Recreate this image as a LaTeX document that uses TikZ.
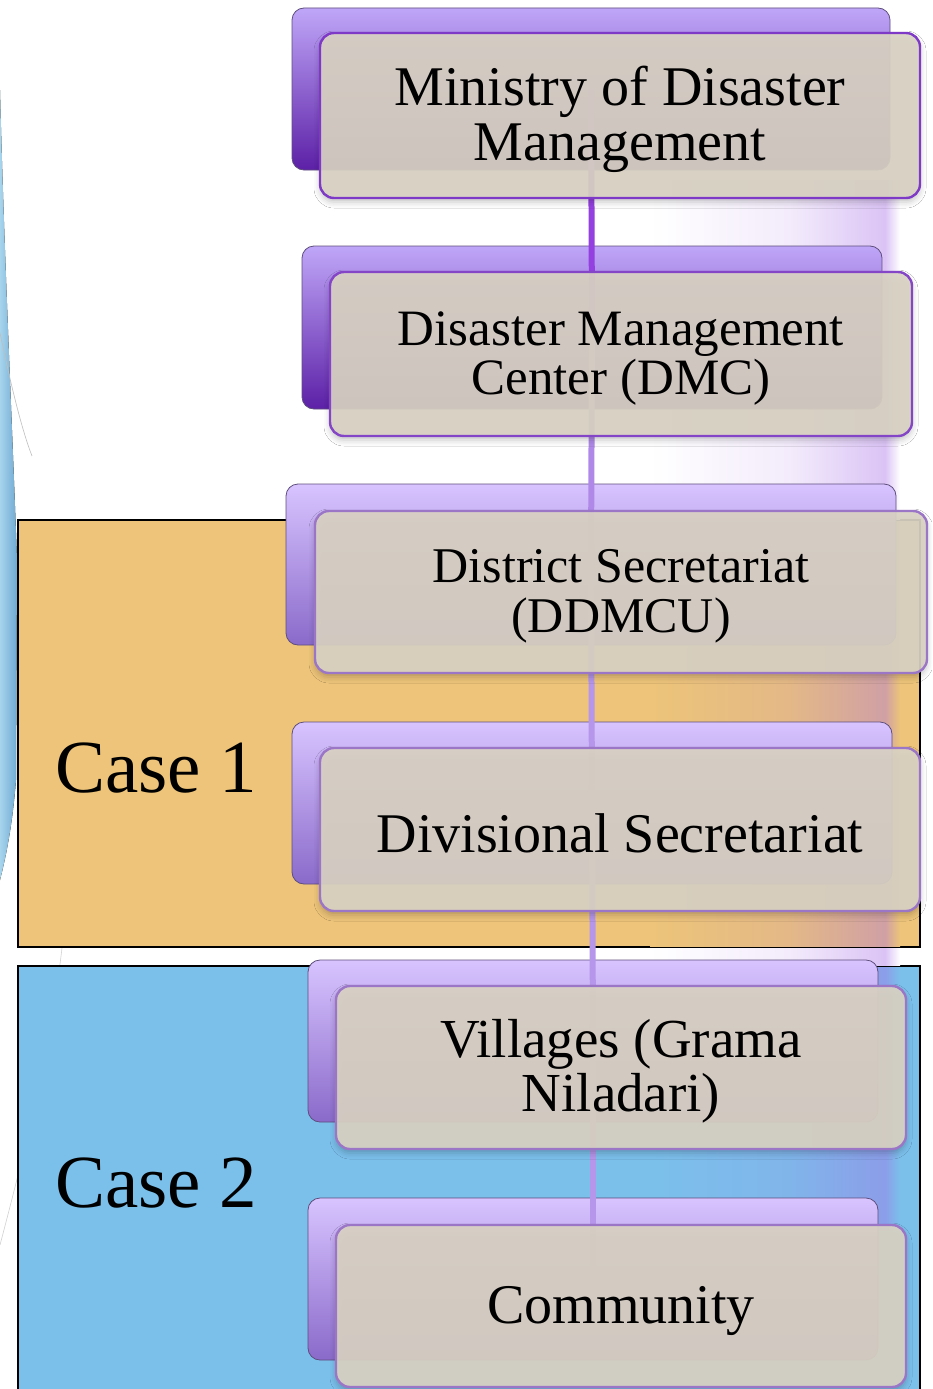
\documentclass[tikz,border=0pt]{standalone}
\usepackage{fontspec}
\setmainfont{Liberation Serif}
\usetikzlibrary{shadows.blur}
\definecolor{orangebg}{HTML}{EDC479}
\definecolor{bluebg}{HTML}{7BC0EB}
\definecolor{frontfill}{HTML}{DAD3C4}
\definecolor{borderA}{HTML}{7E3AC6}
\definecolor{borderB}{HTML}{9C76C6}
\definecolor{backtopA}{HTML}{BFA6F8}
\definecolor{backbotA}{HTML}{5C20A6}
\definecolor{backtopB}{HTML}{D8C4FF}
\definecolor{backbotB}{HTML}{8A6ACA}
\definecolor{backline}{HTML}{5E4E7C}
\definecolor{connA}{HTML}{9440E0}
\definecolor{connB}{HTML}{B596EA}
\definecolor{glowc}{HTML}{A46AE6}
\definecolor{decoA}{HTML}{A6D4EC}
\definecolor{decoB}{HTML}{6FA9D2}
\newcommand\mystrut{\rule{0pt}{\dimexpr0.72em+6pt\relax}}
\tikzset{
  backbox/.style 2 args={rectangle, rounded corners=12pt, top color=#1, bottom color=#2,
    draw=backline, line width=0.8pt, inner sep=0pt},
  frontbox/.style={rectangle, rounded corners=14pt, fill=frontfill, fill opacity=0.92,
    text opacity=1, draw=#1, line width=2.4pt, align=center, inner sep=0pt, text=black,
    blur shadow={shadow xshift=0pt, shadow yshift=-4pt, shadow blur radius=6pt, shadow opacity=25}},
  conn/.style={draw=#1, line width=6pt},
  casebox/.style={draw=black, line width=1.6pt},
  caselabel/.style={anchor=base west, inner sep=0pt, font=\fontsize{75}{80}\selectfont},
  glowa/.style={left color=#1, right color=#1!87!glowc},
  glowb/.style={left color=#1!87!glowc, right color=#1!60!glowc},
  glowc/.style={left color=#1!60!glowc, right color=#1}
}
\begin{document}
\begin{tikzpicture}[x=1pt,y=-1pt]
\useasboundingbox (0,0) rectangle (932,1389);
\clip (0,0) rectangle (932,1389);
\fill[white] (0,0) rectangle (932,1389);
% left decoration
\fill[left color=decoA, right color=decoB] (0,90) .. controls (4,250) and (12,420) .. (17,560) -- (16,780) .. controls (12,830) and (5,860) .. (0,880) -- cycle;
\draw[black!25, line width=0.6pt] (0,333) .. controls (12,390) and (22,430) .. (32,456);
\draw[black!18, line width=0.6pt] (62,948) .. controls (50,1050) and (25,1150) .. (0,1245);
% case backgrounds
\filldraw[casebox, fill=orangebg] (18,520) rectangle (920,947);
\filldraw[casebox, fill=bluebg] (18,966) rectangle (920,1400);
% glow behind the chart
\fill[glowa=white] (650,180) rectangle (790,519);
\fill[glowb=white] (790,180) rectangle (885,519);
\fill[glowc=white] (885,180) rectangle (900,519);
\fill[glowa=orangebg] (650,521) rectangle (790,946);
\fill[glowb=orangebg] (790,521) rectangle (885,946);
\fill[glowc=orangebg] (885,521) rectangle (900,946);
\fill[glowa=white] (650,948) rectangle (790,965);
\fill[glowb=white] (790,948) rectangle (885,965);
\fill[glowc=white] (885,948) rectangle (900,965);
\fill[glowa=bluebg] (650,967) rectangle (790,1230);
\fill[glowb=bluebg] (790,967) rectangle (885,1230);
\fill[glowc=bluebg] (885,967) rectangle (900,1230);
% back boxes
\node[backbox={backtopA}{backbotA}, minimum width=598pt, minimum height=162pt] (b1) at (591,89) {};
\node[backbox={backtopA}{backbotA}, minimum width=580pt, minimum height=163pt] (b2) at (592,327.5) {};
\node[backbox={backtopB}{backbotB}, minimum width=610pt, minimum height=161pt] (b3) at (591,564.5) {};
\node[backbox={backtopB}{backbotB}, minimum width=600pt, minimum height=162pt] (b4) at (592,803) {};
\node[backbox={backtopB}{backbotB}, minimum width=570pt, minimum height=162pt] (b5) at (593,1041) {};
\node[backbox={backtopB}{backbotB}, minimum width=570pt, minimum height=162pt] (b6) at (593,1279) {};
% connectors
\draw[conn=connA] (b1.center) -- (b2.center);
\draw[conn=connB!85!connA] (b2.center) -- (b3.center);
\draw[conn=connB] (b3.center) -- (b4.center);
\draw[conn=connB] (b4.center) -- (b5.center);
\draw[conn=connB] (b5.center) -- (b6.center);
% front boxes
\node[frontbox=borderA, minimum width=600pt, minimum height=165pt,
  font=\fontsize{56}{55}\selectfont] (n1) at (620,115.5) {\mystrut Ministry of Disaster\\Management};
\node[frontbox=borderA!80!borderB, minimum width=582pt, minimum height=164pt,
  font=\fontsize{51}{49}\selectfont] (n2) at (621,354) {\mystrut Disaster Management\\Center (DMC)};
\node[frontbox=borderB, minimum width=612pt, minimum height=162pt,
  font=\fontsize{50}{50}\selectfont] (n3) at (621,592) {\mystrut District Secretariat\\(DDMCU)};
\node[frontbox=borderB, minimum width=600pt, minimum height=163pt,
  font=\fontsize{56}{55}\selectfont] (n4) at (620,829.5) {\mystrut Divisional Secretariat};
\node[frontbox=borderB, minimum width=570pt, minimum height=163pt,
  font=\fontsize{55}{54}\selectfont] (n5) at (621,1067.5) {\mystrut Villages (Grama\\Niladari)};
\node[frontbox=borderB, minimum width=570pt, minimum height=162pt,
  font=\fontsize{56}{55}\selectfont] (n6) at (621,1306) {\mystrut Community};
% case labels
\node[caselabel] (c1) at (55,792) {Case 1};
\node[caselabel] (c2) at (55,1207) {Case 2};
\end{tikzpicture}
\end{document}
